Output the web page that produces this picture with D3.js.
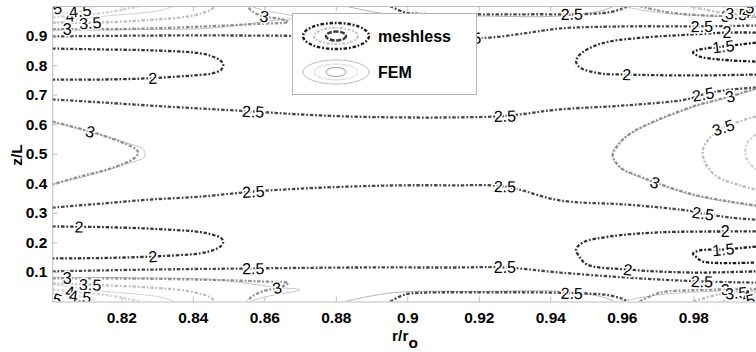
<!DOCTYPE html>
<html><head><meta charset="utf-8">
<script src="https://cdn.jsdelivr.net/npm/d3@7"></script>
<style>body{margin:0;background:#fff}svg{display:block}</style>
</head><body>
<svg id="chart" width="756" height="352"></svg>
<script>
// ---------- axis ticks ----------
const xTicks = [0.82,0.84,0.86,0.88,0.9,0.92,0.94,0.96,0.98];
const xTickLabels = ["0.82","0.84","0.86","0.88","0.9","0.92","0.94","0.96","0.98"];
const yTicks = [0.1,0.2,0.3,0.4,0.5,0.6,0.7,0.8,0.9];
const yTickLabels = ["0.1","0.2","0.3","0.4","0.5","0.6","0.7","0.8","0.9"];
const levels = [1.5,2,2.5,3,3.5,4,4.5,5];

// ---------- meshless contour lines [r/ro, z/L] ----------
const m2_lt = [[0.8007,0.856],[0.8141,0.853],[0.8281,0.850],[0.8421,0.840],[0.8455,0.829],[0.8477,0.816],[0.8485,0.802],[0.8480,0.785],[0.8455,0.772],[0.8421,0.767],[0.8288,0.756],[0.8141,0.751],[0.8007,0.751]];
const m2_lb = [[0.8007,0.254],[0.8141,0.252],[0.8288,0.246],[0.8421,0.235],[0.8455,0.226],[0.8480,0.214],[0.8485,0.200],[0.8477,0.186],[0.8455,0.173],[0.8421,0.163],[0.8281,0.152],[0.8141,0.147],[0.8007,0.146]];
const m25_um = [[0.8007,0.684],[0.8141,0.674],[0.8281,0.663],[0.8421,0.653],[0.8569,0.643],[0.8700,0.633],[0.8840,0.626],[0.8980,0.623],[0.9120,0.623],[0.9273,0.628],[0.9427,0.650],[0.9614,0.664],[0.9782,0.684],[0.9827,0.701],[0.9903,0.717],[0.9975,0.724]];
const m25_lm = [[0.8007,0.318],[0.8141,0.331],[0.8281,0.345],[0.8421,0.355],[0.8569,0.372],[0.8700,0.382],[0.8840,0.389],[0.8980,0.393],[0.9120,0.393],[0.9273,0.389],[0.9427,0.342],[0.9614,0.328],[0.9782,0.308],[0.9827,0.298],[0.9903,0.284],[0.9975,0.277]];
const m3_l = [[0.8007,0.609],[0.8113,0.575],[0.8197,0.541],[0.8240,0.516],[0.8247,0.504],[0.8235,0.484],[0.8169,0.450],[0.8085,0.423],[0.8007,0.396]];
const m3_r = [[0.9975,0.721],[0.9903,0.694],[0.9799,0.660],[0.9659,0.592],[0.9609,0.555],[0.9587,0.525],[0.9575,0.497],[0.9584,0.470],[0.9603,0.447],[0.9651,0.423],[0.9693,0.403],[0.9799,0.362],[0.9903,0.338],[0.9975,0.325]];
const m35_r = [[0.9975,0.626],[0.9884,0.589],[0.9847,0.555],[0.9827,0.514],[0.9833,0.470],[0.9866,0.423],[0.9931,0.393],[0.9975,0.379]];
const m4_r = [[0.9975,0.565],[0.9953,0.541],[0.9945,0.508],[0.9953,0.474],[0.9975,0.447]];
const m2_rt = [[0.9975,0.910],[0.9894,0.910],[0.9799,0.904],[0.9659,0.893],[0.9567,0.880],[0.9520,0.863],[0.9483,0.836],[0.9472,0.812],[0.9483,0.792],[0.9539,0.772],[0.9614,0.768],[0.9799,0.765],[0.9975,0.768]];
const m15_rt = [[0.9975,0.876],[0.9884,0.863],[0.9819,0.853],[0.9799,0.843],[0.9810,0.833],[0.9827,0.826],[0.9903,0.816],[0.9975,0.812]];
const m2_rb = [[0.9975,0.237],[0.9889,0.237],[0.9707,0.234],[0.9567,0.220],[0.9492,0.200],[0.9472,0.176],[0.9483,0.149],[0.9503,0.125],[0.9617,0.108],[0.9799,0.098],[0.9975,0.102]];
const m15_rb = [[0.9975,0.186],[0.9884,0.176],[0.9819,0.173],[0.9799,0.162],[0.9810,0.149],[0.9827,0.135],[0.9975,0.132]];
const m25_top = [[0.8007,0.897],[0.8281,0.900],[0.8561,0.900],[0.8840,0.897],[0.9120,0.890],[0.9231,0.893],[0.9343,0.910],[0.9427,0.924],[0.9614,0.931],[0.9819,0.931],[0.9975,0.934]];
const m25_bot = [[0.8007,0.102],[0.8281,0.108],[0.8569,0.112],[0.8840,0.115],[0.9120,0.115],[0.9273,0.115],[0.9427,0.098],[0.9614,0.081],[0.9819,0.068],[0.9975,0.064]];
const m25_domeTop = [[0.8952,1.0],[0.8994,0.978],[0.9050,0.973],[0.9200,0.972],[0.9350,0.972],[0.9500,0.973],[0.9560,0.978],[0.9600,0.990],[0.9617,1.0]];
const m25_domeBot = [[0.8952,0.0],[0.8994,0.024],[0.9050,0.030],[0.9200,0.031],[0.9350,0.031],[0.9500,0.027],[0.9560,0.022],[0.9600,0.010],[0.9617,0.0]];
const m3_bl = [[0.8007,0.078],[0.8197,0.078],[0.8421,0.074],[0.8588,0.068],[0.8667,0.062],[0.8650,0.051],[0.8595,0.034],[0.8565,0.017],[0.8553,0.0]];
const m35_bl = [[0.8007,0.062],[0.8113,0.057],[0.8281,0.047],[0.8393,0.034],[0.8449,0.014],[0.8463,0.0]];
const m4_bl = [[0.8007,0.041],[0.8057,0.034],[0.8169,0.020],[0.8253,0.0]];
const m45_bl = [[0.8007,0.027],[0.8085,0.017],[0.8127,0.0]];
const m5_bl = [[0.8007,0.012],[0.8040,0.0]];
const m3_tl = [[0.8007,0.922],[0.8197,0.922],[0.8421,0.930],[0.8588,0.940],[0.8667,0.946],[0.8650,0.955],[0.8595,0.966],[0.8565,0.983],[0.8553,1.0]];
const m35_tl = [[0.8007,0.944],[0.8113,0.943],[0.8281,0.953],[0.8393,0.966],[0.8449,0.986],[0.8463,1.0]];
const m4_tl = [[0.8007,0.962],[0.8057,0.966],[0.8169,0.980],[0.8253,1.0]];
const m45_tl = [[0.8007,0.975],[0.8085,0.983],[0.8127,1.0]];
const m5_tl = [[0.8007,0.988],[0.8040,1.0]];
const m3_tr = [[0.9650,1.0],[0.9700,0.985],[0.9780,0.972],[0.9880,0.966],[0.9975,0.963]];
const m35_tr = [[0.9790,1.0],[0.9880,0.977],[0.9975,0.968]];
const m4_tr = [[0.9880,1.0],[0.9945,0.980],[0.9975,0.976]];
const m5_tr = [[0.9940,1.0],[0.9975,0.990]];
const m3_br = [[0.9650,0.0],[0.9707,0.030],[0.9800,0.038],[0.9880,0.041],[0.9975,0.043]];
const m35_br = [[0.9800,0.0],[0.9880,0.026],[0.9975,0.033]];
const m4_br = [[0.9880,0.0],[0.9945,0.019],[0.9975,0.024]];
const m5_br = [[0.9940,0.0],[0.9975,0.010]];

const meshless = [
  [2,m2_lt],[2,m2_lb],[2.5,m25_um],[2.5,m25_lm],[3,m3_l],[3,m3_r],[3.5,m35_r],[4,m4_r],
  [2,m2_rt],[1.5,m15_rt],[2,m2_rb],[1.5,m15_rb],[2.5,m25_top],[2.5,m25_bot],
  [2.5,m25_domeTop],[2.5,m25_domeBot],
  [3,m3_bl],[3.5,m35_bl],[4,m4_bl],[4.5,m45_bl],[5,m5_bl],
  [3,m3_tl],[3.5,m35_tl],[4,m4_tl],[4.5,m45_tl],[5,m5_tl],
  [3,m3_tr],[3.5,m35_tr],[4,m4_tr],[5,m5_tr],
  [3,m3_br],[3.5,m35_br],[4,m4_br],[5,m5_br]
];

// ---------- FEM contour lines (thin) ----------
const f3_l = [[0.8007,0.607],[0.8120,0.572],[0.8215,0.537],[0.8262,0.515],[0.8265,0.490],[0.8215,0.466],[0.8120,0.430],[0.8007,0.398]];
const f3_r = [[0.9975,0.718],[0.9903,0.692],[0.9799,0.657],[0.9659,0.590],[0.9605,0.552],[0.9580,0.520],[0.9572,0.497],[0.9580,0.472],[0.9600,0.448],[0.9651,0.420],[0.9799,0.360],[0.9975,0.322]];
const f25_domeTop = [[0.8826,1.0],[0.8960,0.970],[0.9200,0.966],[0.9430,0.966],[0.9540,0.983],[0.9580,1.0]];
const f25_domeBot = [[0.8826,0.0],[0.8960,0.030],[0.9200,0.034],[0.9430,0.034],[0.9540,0.017],[0.9580,0.0]];
const f3_bl = [[0.8007,0.082],[0.8250,0.080],[0.8450,0.075],[0.8640,0.047],[0.8700,0.040],[0.8600,0.015],[0.8560,0.0]];
const f3_tl = [[0.8007,0.918],[0.8250,0.920],[0.8450,0.925],[0.8640,0.953],[0.8700,0.960],[0.8600,0.985],[0.8560,1.0]];
const f35_bl = [[0.8007,0.058],[0.8150,0.035],[0.8300,0.017],[0.8350,0.0]];
const f35_tl = [[0.8007,0.942],[0.8150,0.965],[0.8300,0.983],[0.8350,1.0]];
const f3_tr = [[0.9600,1.0],[0.9640,0.990],[0.9720,0.975],[0.9850,0.966],[0.9975,0.962]];
const f3_br = [[0.9600,0.0],[0.9640,0.010],[0.9720,0.025],[0.9850,0.034],[0.9975,0.038]];
const fem = [[3,f3_l],[3,f3_r],[2.5,f25_domeTop],[2.5,f25_domeBot],[3,f3_bl],[3,f3_tl],[3.5,f35_bl],[3.5,f35_tl],[3,f3_tr],[3,f3_br]];

// ---------- contour labels: [text, line, r, z] ----------
const labels = [
  ["2",m2_lt,0.8288,0.751],["2",m2_lb,0.8082,0.254],["2",m2_lb,0.8288,0.152],
  ["3",m3_l,0.8113,0.575],
  ["2.5",m25_um,0.8569,0.643],["2.5",m25_um,0.9273,0.626],["2.5",m25_um,0.9827,0.705],
  ["2.5",m25_lm,0.8569,0.379],["2.5",m25_lm,0.9273,0.389],["2.5",m25_lm,0.9827,0.296],
  ["2.5",m25_top,0.9176,0.891],["2.5",m25_top,0.9824,0.931],
  ["2.5",m25_bot,0.8569,0.112],["2.5",m25_bot,0.9273,0.115],["2.5",m25_bot,0.9824,0.068],
  ["2.5",m25_domeTop,0.9460,0.972],["2.5",m25_domeBot,0.9460,0.030],
  ["2",m2_rt,0.9894,0.910],["2",m2_rt,0.9614,0.768],["1.5",m15_rt,0.9884,0.863],
  ["2",m2_rb,0.9889,0.237],["2",m2_rb,0.9617,0.108],["1.5",m15_rb,0.9884,0.176],
  ["3",m3_r,0.9903,0.694],["3",m3_r,0.9693,0.403],["3.5",m35_r,0.9884,0.589],
  ["3",m3_bl,0.8049,0.078],["3",m3_bl,0.8636,0.047],["3.5",m35_bl,0.8113,0.058],["4",m4_bl,0.8057,0.034],["4.5",m45_bl,0.8085,0.017],["5",m5_bl,0.8020,0.006],
  ["3",m3_tl,0.8049,0.922],["3",m3_tl,0.8600,0.962],["3.5",m35_tl,0.8113,0.944],["4",m4_tl,0.8057,0.966],["4.5",m45_tl,0.8085,0.983],["5",m5_tl,0.8020,0.994],
  ["3",m3_tr,0.9890,0.966],["3.5",m35_tr,0.9920,0.972],["4",m4_tr,0.9950,0.980],["5",m5_tr,0.9960,0.994],
  ["3",m3_br,0.9890,0.041],["3.5",m35_br,0.9920,0.029],["4",m4_br,0.9950,0.019],["5",m5_br,0.9960,0.006]
];

const legendItems = ["meshless","FEM"];

// ---------- drawing ----------
const svg = d3.select("#chart");
const X0 = 52.3, X1 = 764.8, Y0 = 301.5, Y1 = 6;
const x = d3.scaleLinear().domain([0.8007,1.0]).range([X0,X1]);
const y = d3.scaleLinear().domain([0,1]).range([Y0,Y1]);
const color = d3.scaleOrdinal().domain(levels).range(["#1a1a1a","#353535","#474747","#909090","#bdbdbd","#d2d2d2","#dcdcdc","#e3e3e3"]);
const femColor = d3.scaleOrdinal().domain(levels).range(["#9a9a9a","#a8a8a8","#b5b5b5","#c4c4c4","#d2d2d2","#dcdcdc","#e2e2e2","#e8e8e8"]);

svg.append("defs").append("clipPath").attr("id","clip")
  .append("rect").attr("x",X0).attr("y",Y1).attr("width",X1-X0).attr("height",Y0-Y1);
const plot = svg.append("g").attr("clip-path","url(#clip)");
const line = d3.line().x(d=>x(d[0])).y(d=>y(d[1])).curve(d3.curveCatmullRom.alpha(0.5));

plot.append("g").selectAll("path").data(fem).join("path")
  .attr("d",d=>line(d[1])).attr("fill","none")
  .attr("stroke",d=>femColor(d[0])).attr("stroke-width",1);

plot.append("g").selectAll("path").data(meshless).join("path")
  .attr("d",d=>line(d[1])).attr("fill","none")
  .attr("stroke",d=>color(d[0])).attr("stroke-width",2.3)
  .attr("stroke-dasharray","3.5,1.8,1.8,1.8");

function snap(pts, px, py){
  const P = pts.map(p=>[x(p[0]),y(p[1])]);
  let best=null, bd=Infinity;
  for(let i=0;i<P.length-1;i++){
    const [x1,y1]=P[i],[x2,y2]=P[i+1];
    const dx=x2-x1, dy=y2-y1, L=dx*dx+dy*dy;
    let t = L ? ((px-x1)*dx+(py-y1)*dy)/L : 0; t=Math.max(0,Math.min(1,t));
    const qx=x1+t*dx, qy=y1+t*dy, d=(qx-px)**2+(qy-py)**2;
    if(d<bd){bd=d;best={x:qx,y:qy,a:Math.atan2(dy,dx)*180/Math.PI};}
  }
  let a=best.a; if(a>90)a-=180; if(a<-90)a+=180;
  best.a=a; return best;
}
plot.append("g").selectAll("text").data(labels).join("text")
  .each(function(d){
    const s = snap(d[1], x(d[2]), y(d[3]));
    d3.select(this).attr("transform",`translate(${s.x},${s.y}) rotate(${s.a})`);
  })
  .attr("text-anchor","middle").attr("dy","0.36em")
  .attr("font-family","'Liberation Sans',Arial,sans-serif").attr("font-size",16)
  .attr("fill","#000").attr("stroke","#fff").attr("stroke-width",3)
  .attr("paint-order","stroke").text(d=>d[0]);

// frame + axes
const frameColor = "#bdbdbd";
const gx = svg.append("g").attr("transform",`translate(0,${Y0})`)
  .call(d3.axisBottom(x).tickValues(xTicks).tickFormat((d,i)=>xTickLabels[i]).tickSizeInner(-5).tickSizeOuter(0).tickPadding(10));
const gxt = svg.append("g").attr("transform",`translate(0,${Y1})`)
  .call(d3.axisTop(x).tickValues(xTicks).tickFormat("").tickSizeInner(-5).tickSizeOuter(0));
const gy = svg.append("g").attr("transform",`translate(${X0},0)`)
  .call(d3.axisLeft(y).tickValues(yTicks).tickFormat((d,i)=>yTickLabels[i]).tickSizeInner(-5).tickSizeOuter(0).tickPadding(5));
[gx,gxt,gy].forEach(g=>{
  g.select(".domain").attr("stroke",frameColor);
  g.selectAll(".tick line").attr("stroke",frameColor);
  g.selectAll("text").attr("font-family","'Liberation Sans',Arial,sans-serif")
    .attr("font-size",15.5).attr("font-weight","bold").attr("fill","#000");
});

svg.append("text").attr("transform","translate(22,155) rotate(-90)")
  .attr("text-anchor","middle").attr("font-family","'Liberation Sans',Arial,sans-serif")
  .attr("font-size",15.5).attr("font-weight","bold").text("z/L");
const xl = svg.append("text").attr("x",405).attr("y",341).attr("text-anchor","middle")
  .attr("font-family","'Liberation Sans',Arial,sans-serif").attr("font-size",15.5).attr("font-weight","bold");
xl.append("tspan").text("r/r");
xl.append("tspan").attr("dy",7).text("o");

// legend
const lg = svg.append("g");
lg.append("rect").attr("x",292.5).attr("y",13.5).attr("width",184).attr("height",81)
  .attr("fill","#fff").attr("stroke","#b5b5b5");
const icons = [
  {cy:36, rings:[[33,13,"#1e1e1e",2.4,"3.5,1.8,1.8,1.8"],[22,8,"#c4c4c4",2.1,"3,1.6,1.6,1.6"],[10,4.5,"#3a3a3a",2.5,"5,1.5"]]},
  {cy:72, rings:[[33,12,"#bdbdbd",1,null],[22,8,"#d8d8d8",1,null],[10,4.5,"#a0a0a0",1,null]]}
];
icons.forEach((ic,i)=>{
  ic.rings.forEach(r=>{
    lg.append("ellipse").attr("cx",336).attr("cy",ic.cy).attr("rx",r[0]).attr("ry",r[1])
      .attr("fill","none").attr("stroke",r[2]).attr("stroke-width",r[3])
      .attr("stroke-dasharray",r[4]);
  });
  lg.append("text").attr("x",378).attr("y",ic.cy+5.5)
    .attr("font-family","'Liberation Sans',Arial,sans-serif").attr("font-size",16)
    .attr("font-weight","bold").text(legendItems[i]);
});
</script>
</body></html>
